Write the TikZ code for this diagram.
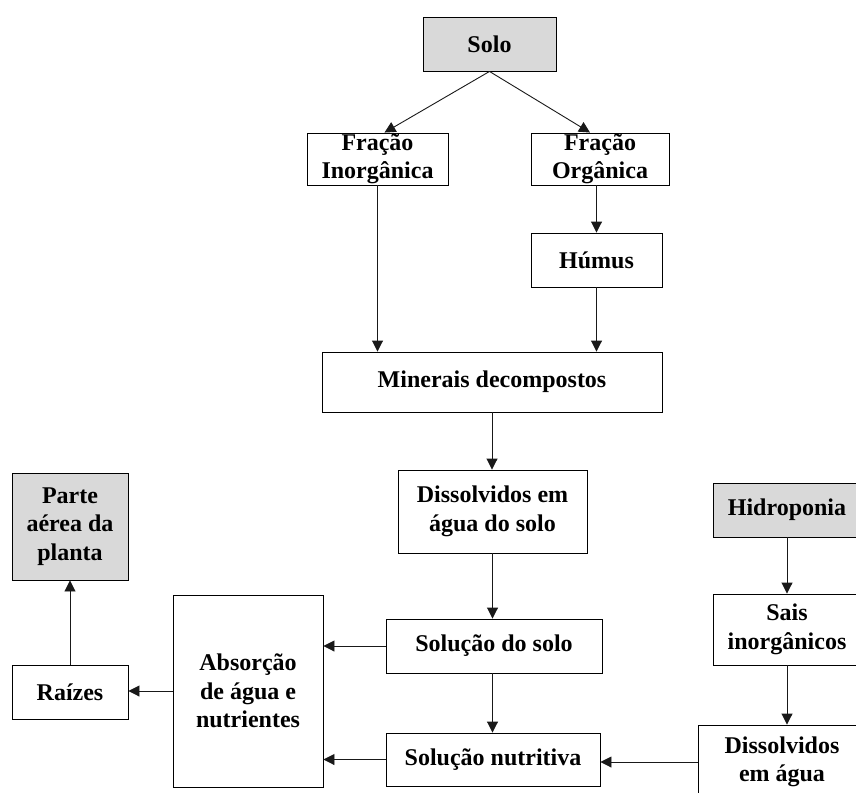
\documentclass[tikz,border=0pt]{standalone}
\usepackage{fontspec}
\setmainfont{Liberation Serif}
\usetikzlibrary{arrows.meta}

\tikzset{
    box/.style={shape=rectangle,draw=black,line width=0.9pt,inner sep=0pt,align=center,
        font=\fontsize{24}{28.5}\selectfont\bfseries},
    grey/.style={box,fill=black!15},
    arr/.style={draw=black!90,line width=0.9pt,-{Triangle[length=11pt,width=11pt]}}
}

\begin{document}
\begin{tikzpicture}[x=1pt,y=-1pt]
    \clip (0,0) rectangle (856,792);
    \node[grey,minimum width=133,minimum height=54] (S) at (489.5,44) {Solo};
    \node[box,minimum width=141,minimum height=52] (FI) at (377.5,159) {Fração\\Inorgânica};
    \node[box,minimum width=138,minimum height=52] (FO) at (600,159) {Fração\\Orgânica};
    \node[box,minimum width=131,minimum height=54] (H) at (596.5,260) {Húmus};
    \node[box,minimum width=340,minimum height=60] (M) at (492,382) {Minerais decompostos};
    \node[box,minimum width=189,minimum height=83] (D) at (492.5,511.5) {Dissolvidos em\\água do solo};
    \node[box,minimum width=216,minimum height=54] (SS) at (494,646) {Solução do solo};
    \node[box,minimum width=214,minimum height=53] (SN) at (493,759.5) {Solução nutritiva};
    \node[box,minimum width=150,minimum height=192] (A) at (248,691) {Absorção\\de água e\\nutrientes};
    \node[box,minimum width=116,minimum height=54] (R) at (70,692) {Raízes};
    \node[grey,minimum width=116,minimum height=107] (P) at (70,526.5) {Parte\\aérea da\\planta};
    \node[grey,minimum width=148,minimum height=54] (HI) at (787,510) {Hidroponia};
    \node[box,minimum width=148,minimum height=71] (SI) at (787,629.5) {Sais\\inorgânicos};
    \node[box,minimum width=168,minimum height=74] (DA) at (782,762) {Dissolvidos\\em água};
    \path (S.south) edge[arr] ([xshift=7]FI.north);
    \path (S.south) edge[arr] ([xshift=-10]FO.north);
    \path (H.north |- FO.south) edge[arr] (H.north);
    \path (FI.south) edge[arr] (FI.south |- M.north);
    \path (H.south) edge[arr] (H.south |- M.north);
    \path (M.south) edge[arr] (M.south |- D.north);
    \path (D.south) edge[arr] (D.south |- SS.north);
    \path (D.south |- SS.south) edge[arr] (D.south |- SN.north);
    \path (SS.west) edge[arr] (SS.west -| A.east);
    \path (SN.west) edge[arr] (SN.west -| A.east);
    \path (A.west) edge[arr] (A.west -| R.east);
    \path (R.north) edge[arr] (P.south);
    \path (HI.south) edge[arr] (SI.north);
    \path (SI.south) edge[arr] (SI.south |- DA.north);
    \path (DA.west) edge[arr] (DA.west -| SN.east);
\end{tikzpicture}
\end{document}
